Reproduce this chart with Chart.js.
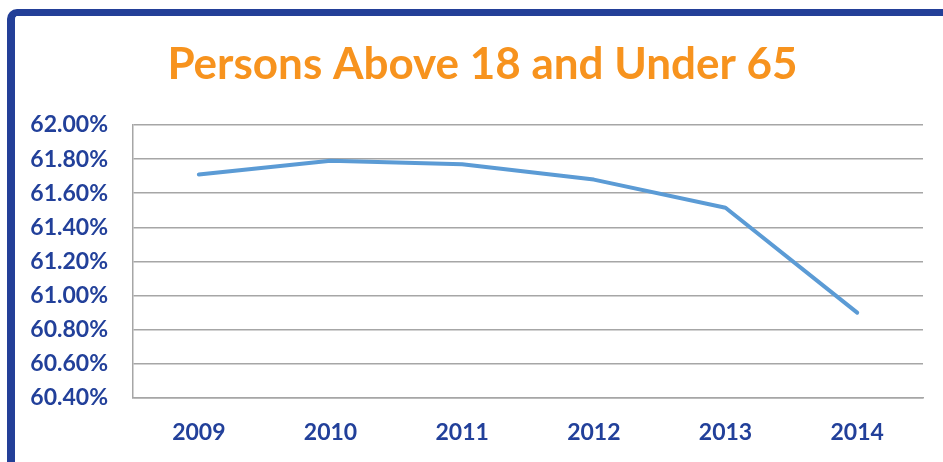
<!DOCTYPE html>
<html><head><meta charset="utf-8">
<script src="https://cdn.jsdelivr.net/npm/chart.js@4"></script>
<style>
html,body{margin:0;padding:0;background:#fff;overflow:hidden;}
#wrap{position:relative;width:943px;height:462px;}
#frame{position:absolute;left:7px;top:9px;width:960px;height:449px;border-left:8px solid #233F98;border-top:7px solid #233F98;border-bottom:2px solid #233F98;border-top-left-radius:10px;pointer-events:none;box-sizing:content-box;}
canvas{position:absolute;left:0;top:0;}
</style></head>
<body><div id="wrap"><canvas id="c" width="943" height="462"></canvas><div id="frame"></div></div>
<script>
const titleText = 'Persons Above 18 and Under 65';
const years = ['2009','2010','2011','2012','2013','2014'];
const share = [61.71, 61.79, 61.77, 61.68, 61.515, 60.90];
const yMin = 60.4, yMax = 62.0, yStep = 0.2;

const textBlue = '#22409A';
const fontFam = 'Lato, "Open Sans", sans-serif';

const titlePlugin = {
  id: 'centeredTitle',
  afterDraw(chart) {
    const ctx = chart.ctx;
    ctx.save();
    ctx.font = 'bold 44px ' + fontFam;
    ctx.fillStyle = '#F7931E';
    ctx.textAlign = 'center';
    ctx.textBaseline = 'middle';
    ctx.fillText(titleText, 482.5, 65);
    ctx.restore();
  }
};

new Chart(document.getElementById('c'), {
  type: 'line',
  data: { labels: years, datasets: [{ data: share, borderColor: '#5B9BD5', borderWidth: 4, pointRadius: 0, tension: 0, fill: false, borderCapStyle: 'round', borderJoinStyle: 'round' }] },
  options: {
    responsive: false, animation: false,
    layout: { padding: { left: 0, right: 20, top: 125, bottom: 0 } },
    plugins: { legend: { display: false }, tooltip: { enabled: false }, title: { display: false } },
    scales: {
      x: {
        offset: true,
        grid: { display: false, drawTicks: false },
        border: { display: true, color: '#A6A6A6', width: 1.5 },
        ticks: { color: textBlue, font: { family: fontFam, size: 23, weight: 'bold' }, padding: 21, maxRotation: 0 },
        afterFit: s => { s.height = 64; }
      },
      y: {
        min: yMin, max: yMax,
        grid: { color: '#A6A6A6', lineWidth: 1.5, drawTicks: false },
        border: { display: true, color: '#A6A6A6', width: 1.5 },
        ticks: { stepSize: yStep, color: textBlue, font: { family: fontFam, size: 23, weight: 'bold' }, padding: 25, callback: v => v.toFixed(2) + '%' },
        afterFit: s => { s.width = 133; }
      }
    }
  },
  plugins: [titlePlugin]
});
</script></body></html>
